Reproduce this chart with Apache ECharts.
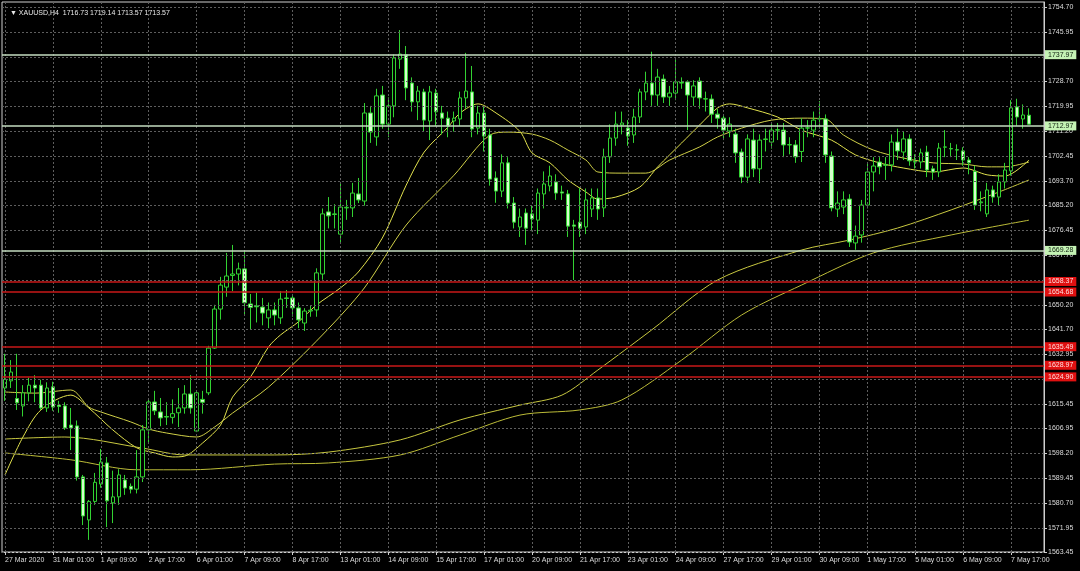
<!DOCTYPE html>
<html>
<head>
<meta charset="utf-8">
<script src="https://cdn.jsdelivr.net/npm/echarts@6/dist/echarts.min.js"></script>
<style>
html,body{margin:0;padding:0;background:#000;}
#chart{width:1080px;height:571px;}
</style>
</head>
<body>
<div id="chart"></div>
<script>
// ---------- data ----------
const symbol = 'XAUUSD,H4';
const tickLabels = ['27 Mar 2020','31 Mar 01:00','1 Apr 09:00','2 Apr 17:00','6 Apr 01:00','7 Apr 09:00','8 Apr 17:00','13 Apr 01:00','14 Apr 09:00','15 Apr 17:00','17 Apr 01:00','20 Apr 09:00','21 Apr 17:00','23 Apr 01:00','24 Apr 09:00','27 Apr 17:00','29 Apr 01:00','30 Apr 09:00','1 May 17:00','5 May 01:00','6 May 09:00','7 May 17:00'];
const barsPerTick = 8;
const priceTicks = [1754.70,1745.95,1737.20,1728.70,1719.95,1711.20,1702.45,1693.70,1685.20,1676.45,1667.70,1658.95,1650.20,1641.70,1632.95,1624.20,1615.45,1606.95,1598.20,1589.45,1580.70,1571.95,1563.45];
const priceMin = 1563.45;
const priceMax = 1756.45;
const greenLevels = [1737.97, 1712.97, 1669.28];
const redLevels = [1658.37, 1654.68, 1635.49, 1628.97, 1624.90];

// candles: [open, close, low, high]
const candles = [
[1621.0,1624.0,1616.5,1633.0],[1623.5,1626.6,1621.0,1630.8],[1617.3,1615.8,1613.3,1633.0],[1614.7,1619.3,1611.0,1622.0],
[1619.3,1622.0,1616.3,1624.6],[1622.0,1621.0,1616.0,1625.5],[1622.0,1614.0,1613.3,1623.9],[1614.0,1621.0,1612.6,1623.0],
[1621.4,1614.3,1613.0,1623.2],[1615.0,1614.5,1612.3,1616.5],[1614.7,1607.0,1606.3,1616.0],[1608.0,1607.0,1599.2,1614.0],
[1607.7,1589.8,1588.5,1609.6],[1589.8,1576.1,1572.9,1590.5],[1574.7,1581.2,1567.7,1581.7],[1581.2,1587.9,1580.0,1591.2],
[1587.3,1595.0,1586.0,1599.6],[1594.7,1581.4,1572.2,1596.8],[1580.7,1582.8,1573.6,1592.0],[1582.8,1590.5,1580.0,1592.5],
[1588.7,1585.9,1583.5,1590.5],[1586.5,1585.5,1584.0,1587.5],[1585.5,1589.8,1584.0,1599.2],[1589.8,1606.3,1588.0,1608.0],
[1606.3,1616.1,1602.0,1616.8],[1616.1,1613.0,1611.5,1620.0],[1612.6,1610.5,1607.6,1617.5],[1611.0,1610.8,1608.0,1616.0],
[1610.7,1612.0,1608.5,1617.0],[1612.3,1614.0,1607.3,1621.0],[1614.0,1618.9,1612.0,1622.0],[1618.9,1614.0,1612.0,1625.5],
[1605.9,1619.3,1605.5,1620.0],[1617.0,1616.0,1612.0,1620.0],[1619.3,1635.0,1618.5,1635.8],[1635.0,1648.7,1634.7,1650.2],
[1648.7,1657.1,1645.0,1660.0],[1656.4,1660.3,1653.0,1668.4],[1660.5,1661.0,1655.0,1671.2],[1661.0,1662.8,1657.0,1665.0],
[1662.8,1650.9,1646.6,1668.7],[1650.5,1649.3,1641.4,1654.0],[1649.8,1649.5,1644.0,1654.5],[1649.4,1647.3,1643.0,1652.6],
[1645.6,1648.4,1642.0,1651.0],[1648.4,1646.6,1643.0,1651.0],[1645.6,1652.2,1643.5,1655.0],[1652.6,1652.4,1649.1,1655.4],
[1652.6,1649.1,1646.0,1654.0],[1649.1,1644.9,1642.0,1651.0],[1643.8,1648.0,1641.0,1649.0],[1648.0,1648.3,1646.0,1650.0],
[1648.4,1661.4,1646.0,1663.0],[1661.0,1682.1,1659.0,1684.0],[1682.8,1681.4,1677.0,1688.0],[1682.1,1681.9,1677.0,1685.5],
[1675.0,1684.5,1672.0,1693.3],[1684.2,1684.4,1680.0,1687.0],[1684.2,1689.4,1681.0,1693.0],[1689.1,1687.0,1685.9,1694.7],
[1686.6,1717.5,1685.0,1721.0],[1717.5,1710.8,1707.0,1720.0],[1709.1,1723.5,1706.0,1726.0],[1723.8,1713.6,1712.0,1727.0],
[1713.6,1720.0,1709.0,1723.0],[1720.0,1736.8,1716.0,1738.0],[1736.4,1738.2,1733.0,1746.6],[1737.9,1726.3,1722.0,1741.0],
[1728.0,1721.4,1718.0,1730.0],[1721.4,1725.2,1715.0,1727.0],[1724.9,1715.0,1711.0,1726.0],[1714.7,1724.9,1708.0,1727.0],
[1724.5,1717.9,1713.0,1726.0],[1717.5,1715.7,1710.0,1720.0],[1715.7,1712.9,1709.0,1718.0],[1714.7,1715.7,1711.0,1718.0],
[1715.4,1722.8,1713.0,1725.0],[1722.8,1725.2,1719.0,1738.6],[1724.9,1711.9,1709.0,1734.0],[1712.2,1717.5,1710.0,1720.0],
[1717.5,1709.4,1704.0,1720.0],[1709.8,1694.3,1692.0,1712.0],[1694.7,1690.1,1686.0,1697.0],[1690.1,1700.0,1688.0,1703.0],
[1700.0,1685.9,1684.0,1702.0],[1685.9,1679.2,1677.0,1688.0],[1677.5,1681.0,1674.0,1684.0],[1682.4,1677.1,1671.2,1684.0],
[1682.1,1680.3,1676.0,1685.0],[1679.9,1689.4,1675.0,1691.0],[1689.1,1692.6,1684.0,1697.0],[1691.9,1695.4,1690.0,1699.0],
[1693.3,1689.4,1687.0,1696.0],[1689.8,1689.4,1687.0,1692.0],[1689.1,1677.8,1674.0,1690.5],[1678.2,1677.8,1658.9,1680.0],
[1679.2,1677.1,1674.0,1691.2],[1677.5,1687.0,1675.0,1691.0],[1683.8,1687.7,1681.0,1691.0],[1687.7,1683.8,1680.0,1691.0],
[1684.2,1702.1,1681.0,1705.0],[1702.1,1708.7,1700.0,1713.5],[1708.7,1713.6,1706.0,1718.0],[1713.3,1714.0,1710.0,1718.0],
[1712.2,1709.4,1706.0,1715.0],[1709.8,1716.1,1707.0,1719.0],[1716.1,1724.9,1714.0,1726.0],[1724.9,1728.0,1722.0,1732.0],
[1728.0,1723.8,1720.0,1739.0],[1723.8,1730.1,1720.0,1733.0],[1729.4,1723.1,1721.0,1731.0],[1723.1,1724.5,1720.0,1727.0],
[1724.5,1728.4,1722.0,1736.8],[1728.2,1728.0,1726.0,1730.0],[1728.4,1723.8,1711.5,1729.0],[1723.1,1727.0,1720.0,1729.0],
[1728.7,1722.8,1719.0,1730.0],[1722.5,1722.4,1718.0,1725.0],[1722.4,1717.1,1714.0,1724.0],[1717.1,1715.7,1712.0,1719.0],
[1715.7,1711.5,1708.0,1717.0],[1711.2,1713.6,1709.0,1716.0],[1710.1,1703.5,1700.0,1712.0],[1703.8,1695.0,1692.9,1705.0],
[1695.0,1708.4,1693.0,1710.0],[1708.0,1697.9,1695.0,1712.0],[1697.9,1708.0,1692.9,1710.0],[1708.2,1708.4,1704.0,1712.0],
[1707.3,1711.5,1705.0,1714.0],[1711.6,1711.5,1708.0,1714.0],[1711.5,1706.3,1702.0,1714.0],[1706.4,1706.3,1703.0,1709.0],
[1706.3,1702.1,1700.0,1708.0],[1704.0,1712.2,1700.3,1715.7],[1712.2,1712.3,1709.0,1715.0],[1711.5,1715.0,1709.0,1718.0],
[1715.4,1715.5,1712.0,1721.7],[1715.4,1702.8,1700.0,1717.0],[1702.4,1684.2,1683.0,1704.0],[1683.8,1685.9,1681.0,1690.0],
[1684.5,1687.0,1682.0,1690.0],[1687.3,1672.2,1670.5,1689.0],[1671.9,1674.3,1669.5,1678.0],[1674.7,1685.2,1672.0,1687.0],
[1685.2,1696.8,1684.0,1700.0],[1696.8,1698.9,1690.0,1702.0],[1700.3,1698.6,1696.0,1702.0],[1699.3,1699.2,1694.0,1702.0],
[1699.3,1707.3,1697.0,1710.0],[1707.3,1704.2,1701.0,1712.0],[1703.8,1708.4,1701.0,1711.0],[1708.4,1700.7,1699.0,1710.0],
[1700.4,1700.3,1698.0,1703.0],[1700.3,1703.5,1698.0,1705.0],[1703.8,1697.5,1695.0,1706.0],[1697.9,1696.8,1694.0,1699.0],
[1696.8,1705.2,1695.0,1707.0],[1705.5,1705.6,1702.0,1711.5],[1705.0,1704.9,1702.0,1707.0],[1704.6,1704.5,1701.0,1706.5],
[1704.2,1701.0,1699.0,1705.5],[1701.0,1700.0,1696.0,1702.0],[1697.0,1685.2,1683.5,1699.0],[1686.0,1686.3,1683.0,1690.0],
[1682.1,1690.5,1681.0,1693.0],[1690.5,1688.0,1686.0,1692.0],[1688.0,1693.3,1685.0,1696.0],[1693.3,1697.5,1691.0,1700.0],
[1697.2,1719.3,1695.5,1722.0],[1719.6,1716.1,1713.0,1722.5],[1715.4,1716.8,1712.0,1720.5],[1716.73,1713.57,1713.57,1719.14]
];

// moving averages: [bar index, price]
const maFast = [[0,1590.5],[3,1603.8],[6,1613.3],[11,1618.5],[14,1614.0],[18,1606.3],[22,1600.0],[25,1598.2],[28,1596.8],[30,1597.1],[33,1601.7],[36,1608.0],[38,1617.8],[41,1624.9],[44,1635.4],[46,1639.6],[49,1644.2],[52,1650.1],[56,1656.1],[59,1661.7],[63,1673.6],[67,1692.2],[70,1703.8],[74,1712.6],[76,1717.5],[79,1720.7],[82,1717.5],[86,1711.0],[88,1703.5],[91,1700.0],[94,1694.0],[97,1689.8],[99,1687.3],[102,1688.0],[106,1691.5],[109,1698.6],[113,1707.0],[116,1713.3],[119,1719.3],[121,1720.7],[124,1719.3],[129,1716.1],[133,1711.5],[138,1708.0],[142,1702.8],[146,1700.0],[150,1698.2],[155,1696.8],[160,1698.2],[164,1695.8],[167,1695.4],[171,1701.0]];
const maMid = [[0,1619.6],[5,1619.2],[11,1620.3],[14,1614.3],[16,1612.6],[21,1609.1],[24,1606.6],[27,1605.2],[32,1603.8],[35,1607.3],[38,1612.2],[44,1621.3],[53,1639.6],[60,1656.1],[67,1678.2],[75,1695.7],[81,1709.8],[84,1710.8],[88,1710.1],[91,1708.0],[94,1704.5],[97,1701.0],[99,1696.8],[103,1696.4],[107,1696.4],[111,1701.0],[116,1705.6],[119,1709.1],[123,1712.2],[128,1715.0],[133,1715.7],[137,1715.4],[140,1709.8],[145,1704.5],[150,1701.7],[155,1700.0],[160,1699.6],[164,1698.6],[167,1698.6],[171,1700.3]];
const maSlow = [[0,1603.1],[10,1603.8],[23,1599.9],[30,1597.5],[45,1597.5],[54,1598.5],[66,1602.8],[76,1609.8],[86,1615.0],[93,1618.5],[99,1627.3],[108,1641.4],[119,1658.9],[133,1669.4],[141,1672.9],[149,1677.1],[158,1683.5],[166,1689.8],[171,1694.0]];
const maLong = [[0,1598.2],[11,1595.8],[22,1592.3],[31,1592.3],[45,1594.3],[54,1594.7],[66,1597.5],[76,1604.5],[86,1611.5],[96,1613.3],[103,1616.8],[113,1630.8],[123,1646.6],[133,1657.1],[145,1668.4],[158,1674.7],[171,1679.9]];

// ---------- chart ----------
const FONT = 'Liberation Sans, Arial, sans-serif';
const nSlots = candles.length + 2;
const cats = Array.from({length: nSlots}, (_, i) => String(i));
const last = candles[candles.length - 1];
const titleText = '\u25BC ' + symbol + '  ' + [last[0], last[3], last[2], last[1]].map(v => v.toFixed(2)).join(' ');

const gridLineStyle = {color: '#5e5e5e', type: [2, 2], width: 1};
const gridMarks = priceTicks.map(v => ({yAxis: v}))
  .concat(tickLabels.map((t, k) => ({xAxis: k * barsPerTick})));

function levelMarks(levels, lineColor, bg, fg, width) {
  return levels.map(v => ({
    yAxis: v,
    lineStyle: {color: lineColor, width: width, type: 'solid', opacity: 1},
    label: {show: true, position: 'end', distance: 1, formatter: v.toFixed(2),
      backgroundColor: bg, color: fg, fontSize: 7, fontFamily: FONT, padding: [1, 3, 1, 3]}
  }));
}

function maSeries(name, data, color) {
  return {name, type: 'line', data, showSymbol: false, symbol: 'none', smooth: 0.3,
    lineStyle: {color, width: 1}, z: 3, silent: true, animation: false};
}

const chart = echarts.init(document.getElementById('chart'), null, {renderer: 'canvas'});
chart.setOption({
  backgroundColor: '#000',
  animation: false,
  title: {text: titleText, left: 5, top: 5,
    textStyle: {color: '#e8e8e8', fontSize: 7, fontWeight: 'normal', fontFamily: FONT}},
  grid: {left: 2, right: 36, top: 2, bottom: 19, show: true, borderColor: '#cfcfcf', borderWidth: 1, backgroundColor: '#000'},
  xAxis: {
    type: 'category', data: cats, boundaryGap: true,
    axisLine: {show: true, lineStyle: {color: '#cfcfcf'}},
    axisTick: {show: true, interval: barsPerTick - 1, alignWithLabel: true, length: 3, lineStyle: {color: '#cfcfcf'}},
    axisLabel: {interval: barsPerTick - 1, align: 'left', margin: 5, color: '#dcdcdc', fontSize: 7, fontFamily: FONT,
      formatter: (v, i) => tickLabels[i / barsPerTick] || ''},
    splitLine: {show: false}
  },
  yAxis: {
    type: 'value', position: 'right', min: priceMin, max: priceMax, scale: true,
    axisLine: {show: true, lineStyle: {color: '#cfcfcf'}},
    axisTick: {show: true, length: 3, customValues: priceTicks, lineStyle: {color: '#cfcfcf'}},
    axisLabel: {customValues: priceTicks, formatter: v => v.toFixed(2), color: '#dcdcdc', fontSize: 7, fontFamily: FONT, margin: 4},
    splitLine: {show: false}
  },
  series: [
    {type: 'line', data: [], z: 1, silent: true,
      markLine: {silent: true, symbol: ['none', 'none'], label: {show: false}, lineStyle: gridLineStyle, data: gridMarks, animation: false}},
    {type: 'line', data: [], z: 5, silent: true,
      markLine: {silent: true, symbol: ['none', 'none'], animation: false, emphasis: {disabled: true},
        data: levelMarks(greenLevels, '#c4dcc0', '#c4f2b4', '#102010', 1.5).concat(levelMarks(redLevels, '#c81818', '#e01010', '#ffe0e0', 1.5))}},
    maSeries('MA1', maFast, '#e2e24e'),
    maSeries('MA2', maMid, '#d0d048'),
    maSeries('MA3', maSlow, '#c8c840'),
    maSeries('MA4', maLong, '#bcbc38'),
    {type: 'candlestick', data: candles, barWidth: 4, z: 4, silent: true,
      itemStyle: {color: '#000000', color0: '#d4ffcc', borderColor: '#32d232', borderColor0: '#32d232', borderWidth: 1}}
  ]
});
</script>
</body>
</html>
